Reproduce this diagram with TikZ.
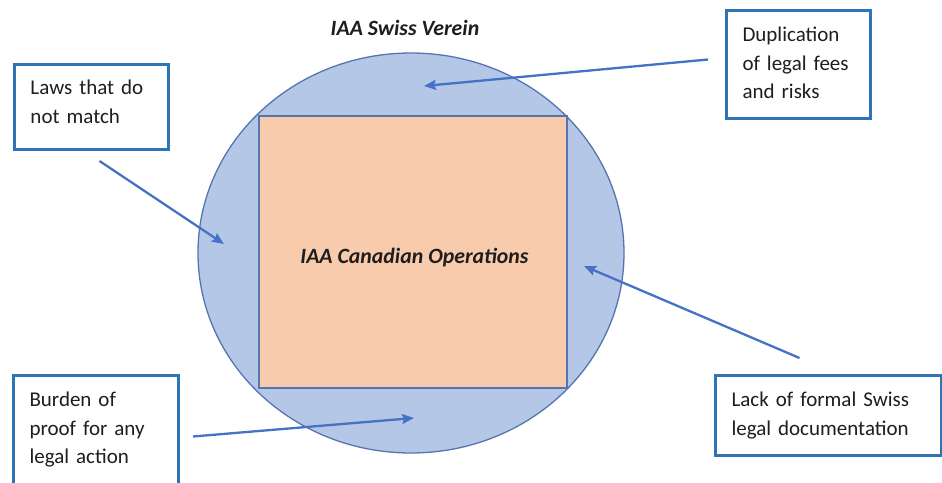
\documentclass[tikz,border=0pt]{standalone}
\usepackage{fontspec}
\setmainfont{Carlito}
\usetikzlibrary{arrows.meta,shapes.geometric}
\definecolor{vereinfill}{HTML}{B4C7E7}
\definecolor{vereinedge}{HTML}{5675B0}
\definecolor{opsfill}{HTML}{F8CBAD}
\definecolor{boxedge}{HTML}{2E75B6}
\definecolor{arrowblue}{HTML}{4472C4}
\definecolor{textgrey}{HTML}{1E1E1E}
\begin{document}
\begin{tikzpicture}[x=1pt, y=-1pt, font=\fontsize{21}{28.5}\selectfont, text=textgrey,
		issuebox/.style={draw=boxedge, line width=3pt, fill=white, anchor=north west, align=left, inner xsep=16pt, inner ysep=0pt, text height=0pt},
		title/.style={font=\fontsize{21.8}{27}\selectfont\bfseries\itshape},
		arr/.style={draw=arrowblue, line width=2.3pt, -{Stealth[length=12pt,width=10pt,inset=2pt]}}]
	\clip (0,0) rectangle (942,482);
	\fill[white] (0,0) rectangle (942,482);
	% Verein and operations
	\node[ellipse, draw=vereinedge, line width=1.3pt, fill=vereinfill, minimum width=426pt, minimum height=400pt, inner sep=0pt] (verein) at (411,253) {};
	\node[draw=vereinedge, line width=1.3pt, fill=opsfill, minimum width=308pt, minimum height=272pt, inner sep=0pt] (ops) at (413,252) {};
	\node[title] (opslabel) at (414.5,258) {IAA Canadian Operations};
	\node[title] (vereintitle) at (405,28) {IAA Swiss Verein};
	% issues (text depth sets the first baseline)
	\node[issuebox, text width=122pt, minimum height=85pt, text depth=24.4pt] (laws) at (13,63) {Laws that do\\not match};
	\node[issuebox, text width=112pt, minimum height=108pt, text depth=46pt] (dup) at (725,9) {Duplication\\of legal fees\\and risks};
	\node[issuebox, text width=133pt, minimum height=110pt, text depth=48pt] (burden) at (12,374) {Burden of\\proof for any\\legal action};
	\node[issuebox, text width=194pt, minimum height=80pt, text depth=18pt] (lack) at (714,374) {Lack of formal Swiss\\legal documentation};
	% arrow tips
	\coordinate (lawstip) at (224,244);
	\coordinate (duptip) at (424,86);
	\coordinate (burdentip) at (414,418);
	\coordinate (lacktip) at (584,266);
	\draw[arr] ([xshift=8pt,yshift=-10pt]laws.south) -- (lawstip);
	\draw[arr] ([xshift=-17pt,yshift=5pt]dup.west) -- (duptip);
	\draw[arr] ([xshift=13pt,yshift=-6pt]burden.east) -- (burdentip);
	\draw[arr] ([xshift=-29pt,yshift=16pt]lack.north) -- (lacktip);
\end{tikzpicture}
\end{document}
